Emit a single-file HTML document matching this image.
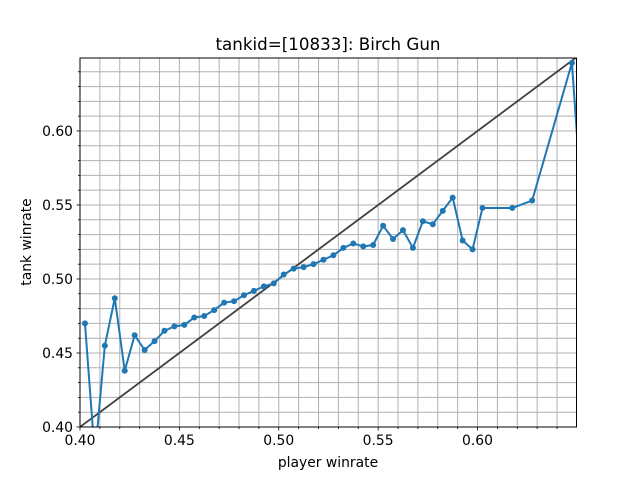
<!DOCTYPE html>
<html><head><meta charset="utf-8"><style>
body{margin:0;background:#fff;}
svg text{font-family:"DejaVu Sans","Liberation Sans",sans-serif;}
</style></head><body>
<svg id="chart" width="640" height="480" xmlns="http://www.w3.org/2000/svg">
<rect width="640" height="480" fill="#fff"/>
<defs><clipPath id="clip"><rect x="80" y="58" width="496.5" height="369"/></clipPath></defs>
<text x="328" y="50" text-anchor="middle" font-size="16.7">tankid=[10833]: Birch Gun</text>
<g id="grid"></g>
<g id="marks" clip-path="url(#clip)"></g>
<rect x="80" y="58" width="496.5" height="369" fill="none" stroke="#000" stroke-width="1"/>
<g id="ticks"></g>
<text x="328" y="467" text-anchor="middle" font-size="13.9">player winrate</text>
<text transform="translate(31,242) rotate(-90)" text-anchor="middle" font-size="13.9">tank winrate</text>
</svg>
<script>
const xs=[0.4025,0.4075,0.4125,0.4175,0.4225,0.4275,0.4325,0.4375,0.4425,0.4475,0.4525,0.4575,0.4625,0.4675,0.4725,0.4775,0.4825,0.4875,0.4925,0.4975,0.5025,0.5075,0.5125,0.5175,0.5225,0.5275,0.5325,0.5375,0.5425,0.5475,0.5525,0.5575,0.5625,0.5675,0.5725,0.5775,0.5825,0.5875,0.5925,0.5975,0.6025,0.6175,0.6275,0.6475,0.6525];
const ys=[0.470,0.380,0.455,0.487,0.438,0.462,0.452,0.458,0.465,0.468,0.469,0.474,0.475,0.479,0.484,0.485,0.489,0.492,0.495,0.497,0.503,0.507,0.508,0.510,0.513,0.516,0.521,0.524,0.522,0.523,0.536,0.527,0.533,0.521,0.539,0.537,0.546,0.555,0.526,0.520,0.548,0.548,0.553,0.646,0.55];
const xTicks=[0.40,0.45,0.50,0.55,0.60];
const yTicks=[0.40,0.45,0.50,0.55,0.60];
const X0=0.40,X1=0.6498,Y0=0.40,Y1=0.6493;
const L=80,R=576.5,T=58,B=427;
const sx=v=>L+(v-X0)/(X1-X0)*(R-L);
const sy=v=>B-(v-Y0)/(Y1-Y0)*(B-T);
const NS="http://www.w3.org/2000/svg";
function mk(tag,attrs,parent){const e=document.createElementNS(NS,tag);for(const k in attrs)e.setAttribute(k,attrs[k]);parent.appendChild(e);return e;}
const grid=document.getElementById('grid'),marks=document.getElementById('marks'),ticks=document.getElementById('ticks');
for(let i=0;i<=24;i++){const v=0.40+i*0.01;const x=sx(v);
 const g=mk('line',{x1:x,x2:x,y1:T,y2:B,stroke:'#b0b0b0','stroke-width':1},grid);
 
 const t=mk('line',{x1:x,x2:x,y1:B,y2:B+(i%5==0?3.5:2),stroke:'#000','stroke-width':0.8},ticks);
 }
for(let i=0;i<=24;i++){const v=0.40+i*0.01;const y=sy(v);
 const g=mk('line',{x1:L,x2:R,y1:y,y2:y,stroke:'#b0b0b0','stroke-width':1},grid);
 
 const t=mk('line',{x1:L-(i%5==0?3.5:2),x2:L,y1:y,y2:y,stroke:'#000','stroke-width':0.8},ticks);
 }
xTicks.forEach(v=>{const t=mk('text',{x:sx(v),y:B+18,'text-anchor':'middle','font-size':13.9},ticks);t.textContent=v.toFixed(2);
 });
yTicks.forEach(v=>{const t=mk('text',{x:L-7,y:sy(v)+5,'text-anchor':'end','font-size':13.9},ticks);t.textContent=v.toFixed(2);
 });
const diag=mk('line',{x1:sx(0.40),y1:sy(0.40),x2:sx(0.66),y2:sy(0.66),stroke:'#404040','stroke-width':1.8},marks);


const pl=mk('polyline',{points:xs.map((v,i)=>sx(v)+','+sy(ys[i])).join(' '),fill:'none',stroke:'#1f77b4','stroke-width':2},marks);


xs.forEach((v,i)=>{const c=mk('circle',{cx:sx(v),cy:sy(ys[i]),r:3,fill:'#1f77b4'},marks);
 
 });
</script>
</body></html>
